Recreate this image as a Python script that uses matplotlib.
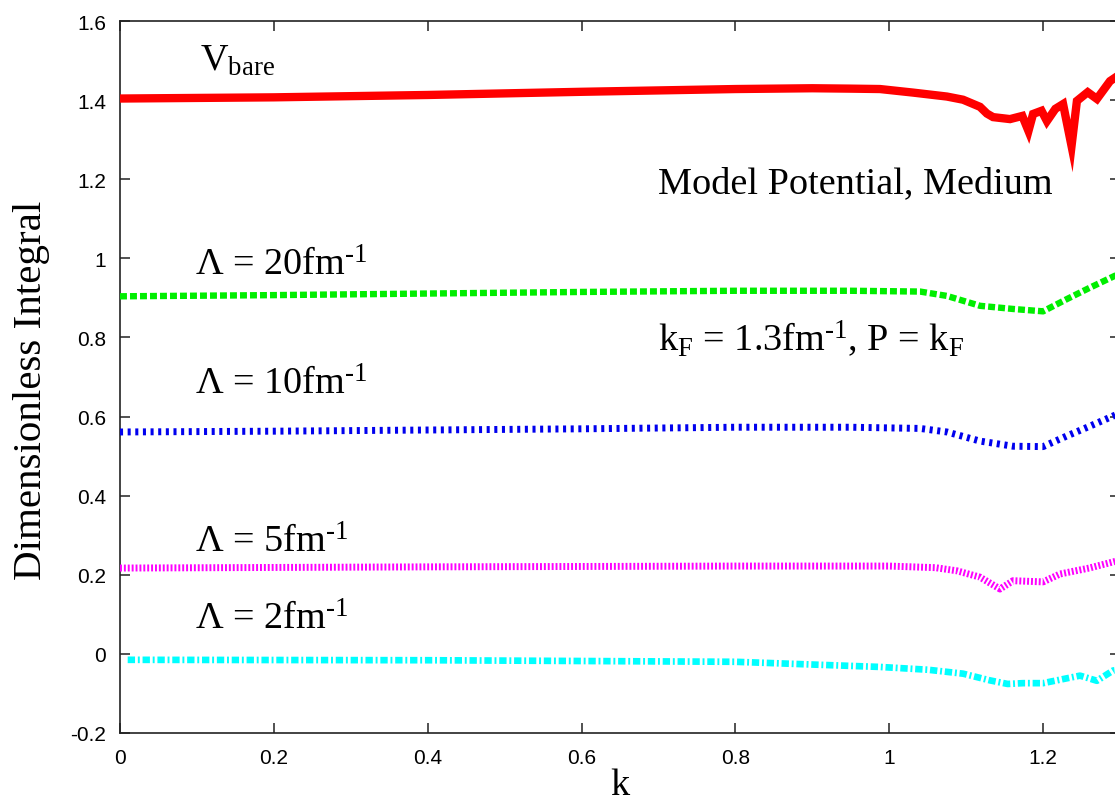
import matplotlib
matplotlib.use("Agg")
import matplotlib.pyplot as plt

plt.rcParams['font.family'] = ['Liberation Sans', 'DejaVu Sans']
plt.rcParams['mathtext.fontset'] = 'custom'
plt.rcParams['mathtext.rm'] = 'Liberation Serif'
plt.rcParams['mathtext.it'] = 'Liberation Serif:italic'
plt.rcParams['mathtext.bf'] = 'Liberation Serif:bold'
plt.rcParams['lines.scale_dashes'] = False

# ---- data ----
x_bare = [0, 0.2, 0.4, 0.6, 0.8, 0.9, 0.95, 0.988, 1.031, 1.075, 1.096, 1.118, 1.127, 1.135,
          1.157, 1.173, 1.181, 1.187, 1.198, 1.205, 1.216, 1.226, 1.237, 1.244, 1.258, 1.27,
          1.287, 1.3]
y_bare = [1.404, 1.407, 1.413, 1.421, 1.428, 1.430, 1.429, 1.428, 1.419, 1.409, 1.401, 1.383,
          1.366, 1.357, 1.352, 1.360, 1.322, 1.365, 1.373, 1.347, 1.378, 1.390, 1.284, 1.398,
          1.420, 1.403, 1.448, 1.465]

x_20 = [0, 0.2, 0.4, 0.6, 0.8, 0.95, 1.04, 1.075, 1.118, 1.161, 1.2, 1.231, 1.26, 1.3]
y_20 = [0.904, 0.907, 0.911, 0.915, 0.918, 0.918, 0.916, 0.905, 0.880, 0.872, 0.866, 0.897,
        0.925, 0.962]

x_10 = [0, 0.2, 0.4, 0.6, 0.8, 0.95, 1.04, 1.075, 1.118, 1.161, 1.2, 1.231, 1.26, 1.3]
y_10 = [0.561, 0.563, 0.566, 0.569, 0.573, 0.573, 0.570, 0.561, 0.538, 0.525, 0.524, 0.551,
        0.575, 0.609]

x_5 = [0, 0.4, 0.8, 1.0, 1.06, 1.088, 1.118, 1.144, 1.161, 1.2, 1.222, 1.26, 1.3]
y_5 = [0.217, 0.220, 0.222, 0.222, 0.218, 0.210, 0.194, 0.164, 0.185, 0.182, 0.202, 0.217, 0.237]

x_2 = [0.01, 0.4, 0.8, 0.988, 1.05, 1.096, 1.131, 1.154, 1.174, 1.2, 1.248, 1.27, 1.291, 1.3]
y_2 = [-0.015, -0.016, -0.020, -0.033, -0.040, -0.050, -0.067, -0.076, -0.074, -0.074, -0.055,
       -0.068, -0.042, -0.040]

x_ticks = [0, 0.2, 0.4, 0.6, 0.8, 1.0, 1.2]
x_ticklabels = ['0', '0.2', '0.4', '0.6', '0.8', '1', '1.2']
y_ticks = [-0.2, 0, 0.2, 0.4, 0.6, 0.8, 1.0, 1.2, 1.4, 1.6]
y_ticklabels = ['-0.2', '0', '0.2', '0.4', '0.6', '0.8', '1', '1.2', '1.4', '1.6']

W, H = 1115, 803
fig = plt.figure(figsize=(W / 100, H / 100), dpi=100)
ax = fig.add_axes([120 / W, (H - 734) / H, 1000 / W, 712 / H])

ax.plot(x_bare, y_bare, color='#ff0000', lw=6.0, solid_joinstyle='miter', zorder=3)
ax.plot(x_20, y_20, color='#00ee00', lw=4.6, dashes=(5.0, 2.2), zorder=3)
ax.plot(x_10, y_10, color='#0000ee', lw=5.0, dashes=(2.2, 3.3), zorder=3)
ax.plot(x_5, y_5, color='#ff00ff', lw=5.0, dashes=(1.4, 1.4), zorder=3)
ax.plot(x_2, y_2, color='#00ffff', lw=4.8, dashes=(5.3, 2.0, 1.4, 2.0), zorder=3)

ax.set_xticks(x_ticks)
ax.set_xticklabels(x_ticklabels)
ax.set_yticks(y_ticks)
ax.set_yticklabels(y_ticklabels)
ax.set_xlim(0, 1.3)
ax.set_ylim(-0.2, 1.6)
ax.tick_params(direction='in', length=7, width=1.1, labelsize=15, top=True, right=True,
               color='#222222')
ax.tick_params(axis='x', pad=11)
ax.tick_params(axis='y', pad=10)
for s in ax.spines.values():
    s.set_linewidth(1.2)
    s.set_color('#222222')

serif = ['Liberation Serif', 'DejaVu Serif']
fs = 27.5
ax.set_xlabel('k', fontsize=fs, family=serif, labelpad=0)
ax.set_ylabel('Dimensionless Integral', fontsize=29.5, family=serif)
ax.yaxis.set_label_coords(-0.07, 0.483)

sup = r'$^{\text{-1}}$'
ax.text(0.104, 1.477, r'V$_{\rm bare}$', fontsize=fs, family=serif, va='baseline')
ax.text(0.097, 0.960, 'Λ = 20fm' + sup, fontsize=fs, family=serif, va='baseline')
ax.text(0.097, 0.659, 'Λ = 10fm' + sup, fontsize=fs, family=serif, va='baseline')
ax.text(0.097, 0.260, 'Λ = 5fm' + sup, fontsize=fs, family=serif, va='baseline')
ax.text(0.097, 0.063, 'Λ = 2fm' + sup, fontsize=fs, family=serif, va='baseline')
ax.text(0.699, 1.167, 'Model Potential, Medium', fontsize=fs, family=serif, va='baseline')
ax.text(0.699, 0.770, r'k$_{\rm F}$ = 1.3fm' + sup + r', P = k$_{\rm F}$', fontsize=fs,
        family=serif, va='baseline')

fig.savefig('out.png', dpi=100)
